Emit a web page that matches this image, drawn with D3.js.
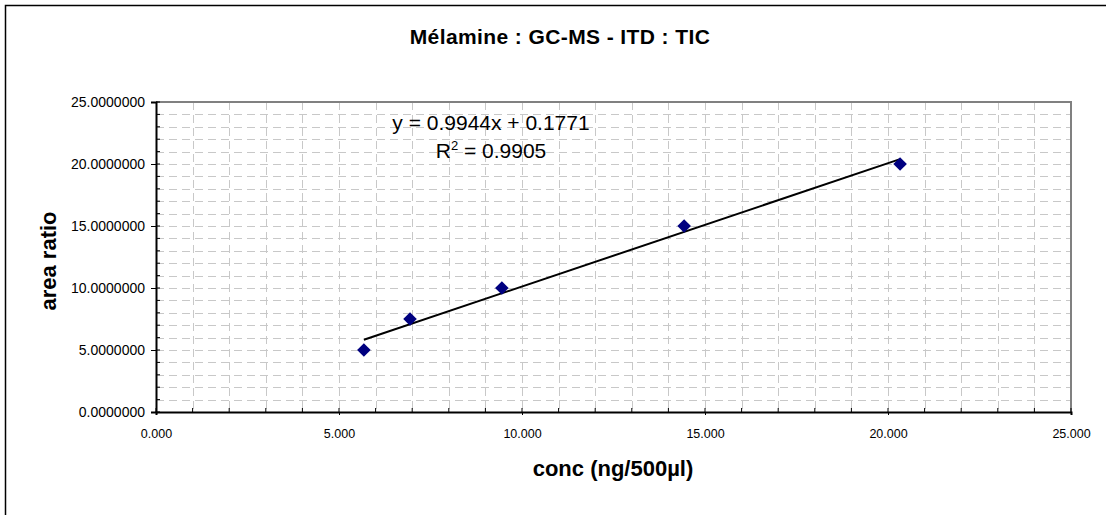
<!DOCTYPE html>
<html>
<head>
<meta charset="utf-8">
<script src="https://cdn.jsdelivr.net/npm/d3@7"></script>
<style>
  html, body { margin: 0; padding: 0; background: #fff; }
  svg { display: block; font-family: Arial, "Liberation Sans", sans-serif; }
</style>
</head>
<body>
<div id="chart"></div>
<script>
// données
const concValues = [5.68, 6.94, 9.45, 14.43, 20.33];
const ratioValues = [5.0, 7.5, 10.0, 15.0, 20.0];
const xTicks = [0, 5, 10, 15, 20, 25];
const yTicks = [0, 5, 10, 15, 20, 25];
const trendSlope = 0.9944;
const trendIntercept = 0.1771;
const chartTitle = "Mélamine : GC-MS - ITD : TIC";
const xTitle = "conc (ng/500µl)";
const yTitle = "area ratio";
const eqText = "y = 0.9944x + 0.1771";
const r2Value = "0.9905";

//---------------------------------------------------------------------------------------

// Création du canevas SVG
const W = 1106, H = 515;
const plot = { left: 156, top: 102, right: 1071, bottom: 412 };

const svg = d3.select("#chart")
  .append("svg")
  .attr("width", W)
  .attr("height", H);

// cadre du graphique (coupé à droite et en bas)
svg.append("rect")
  .attr("x", 5.5).attr("y", 5.5)
  .attr("width", W + 20).attr("height", H + 20)
  .attr("fill", "#fff")
  .attr("stroke", "#000")
  .attr("stroke-width", 1.5);

// échelles
const x = d3.scaleLinear().domain([0, 25]).range([plot.left, plot.right]);
const y = d3.scaleLinear().domain([0, 25]).range([plot.bottom, plot.top]);

const minorX = d3.range(1, 25);
const minorY = d3.range(1, 25);

//---------------------------------------------------------------------------------------

// grille
const grid = svg.append("g");
grid.selectAll(".gx")
  .data(minorX)
  .join("line")
  .attr("x1", d => Math.round(x(d)) + 0.5)
  .attr("x2", d => Math.round(x(d)) + 0.5)
  .attr("y1", plot.top)
  .attr("y2", plot.bottom)
  .attr("stroke", "#c8c8c8")
  .attr("stroke-dasharray", "8,5");

grid.selectAll(".gy")
  .data(minorY)
  .join("line")
  .attr("y1", d => Math.round(y(d)) + 0.5)
  .attr("y2", d => Math.round(y(d)) + 0.5)
  .attr("x1", plot.left)
  .attr("x2", plot.right)
  .attr("stroke", "#c8c8c8")
  .attr("stroke-dasharray", "8,5");

// bordure haut / droite
svg.append("path")
  .attr("d", `M${plot.left},${plot.top}H${plot.right}V${plot.bottom}`)
  .attr("fill", "none")
  .attr("stroke", "#808080")
  .attr("stroke-width", 2);

//---------------------------------------------------------------------------------------

// axes
const axisX = svg.append("g")
  .attr("transform", `translate(0,${plot.bottom})`)
  .call(d3.axisBottom(x).tickValues(xTicks).tickFormat(d3.format(".3f")).tickSize(3).tickPadding(14));
axisX.select(".domain").attr("stroke", "#000").attr("stroke-width", 2);
axisX.selectAll("text").attr("font-size", 12.5).attr("fill", "#000")
  .attr("font-family", "Arial, 'Liberation Sans', sans-serif");

svg.append("g")
  .selectAll("line")
  .data(d3.range(0, 26))
  .join("line")
  .attr("x1", d => x(d)).attr("x2", d => x(d))
  .attr("y1", plot.bottom).attr("y2", plot.bottom - 4)
  .attr("stroke", "#000");

const axisY = svg.append("g")
  .attr("transform", `translate(${plot.left},0)`)
  .call(d3.axisLeft(y).tickValues(yTicks).tickFormat(d3.format(".7f")).tickSize(5).tickPadding(6));
axisY.select(".domain").attr("stroke", "#000").attr("stroke-width", 2);
axisY.selectAll("text").attr("font-size", 14).attr("fill", "#000")
  .attr("font-family", "Arial, 'Liberation Sans', sans-serif");

svg.append("g")
  .selectAll("line")
  .data(d3.range(0, 26))
  .join("line")
  .attr("y1", d => y(d)).attr("y2", d => y(d))
  .attr("x1", plot.left).attr("x2", plot.left + 4)
  .attr("stroke", "#000");

//---------------------------------------------------------------------------------------

// courbe de tendance
const xMin = d3.min(concValues), xMax = d3.max(concValues);
svg.append("line")
  .attr("x1", x(xMin)).attr("y1", y(trendSlope * xMin + trendIntercept))
  .attr("x2", x(xMax)).attr("y2", y(trendSlope * xMax + trendIntercept))
  .attr("stroke", "#000")
  .attr("stroke-width", 2);

// points
svg.append("g")
  .selectAll("path")
  .data(concValues.map((c, i) => [c, ratioValues[i]]))
  .join("path")
  .attr("d", d3.symbol(d3.symbolSquare, 92))
  .attr("transform", d => `translate(${x(d[0])},${y(d[1])}) rotate(45)`)
  .attr("fill", "#000080");

//---------------------------------------------------------------------------------------

// titraille
svg.append("text")
  .attr("x", 560).attr("y", 44)
  .attr("text-anchor", "middle")
  .attr("font-size", 21).attr("font-weight", "bold")
  .attr("letter-spacing", 0.4)
  .text(chartTitle);

svg.append("text")
  .attr("x", 613).attr("y", 476)
  .attr("text-anchor", "middle")
  .attr("font-size", 22).attr("font-weight", "bold")
  .text(xTitle);

svg.append("text")
  .attr("transform", "translate(56,261) rotate(-90)")
  .attr("text-anchor", "middle")
  .attr("font-size", 22).attr("font-weight", "bold")
  .text(yTitle);

// équation
svg.append("text")
  .attr("x", 491).attr("y", 130)
  .attr("text-anchor", "middle")
  .attr("font-size", 21)
  .text(eqText);

const r2 = svg.append("text")
  .attr("x", 491).attr("y", 158)
  .attr("text-anchor", "middle")
  .attr("font-size", 21);
r2.append("tspan").text("R");
r2.append("tspan").attr("font-size", 13).attr("dy", -8).text("2");
r2.append("tspan").attr("dy", 8).text(" = " + r2Value);
</script>
</body>
</html>
